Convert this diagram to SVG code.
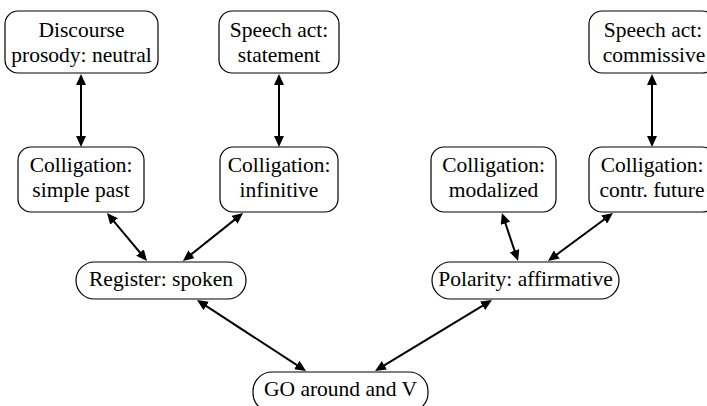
<svg xmlns="http://www.w3.org/2000/svg" width="707" height="406" viewBox="0 0 707 406">
<style>
.box{fill:#fff;stroke:#000;stroke-width:1.2}
.t{font-family:"Liberation Serif","Times New Roman",serif;font-size:21.5px;fill:#000;text-anchor:middle}
.c line{stroke:#000;stroke-width:2;marker-start:url(#ah);marker-end:url(#ah)}
</style>
<defs>
<marker id="ah" markerUnits="userSpaceOnUse" markerWidth="12" markerHeight="10" refX="8" refY="5" orient="auto-start-reverse">
<path d="M0,0 L11,5 L0,10 z" fill="#000"/>
</marker>
</defs>
<rect width="707" height="406" fill="#fff"/>
<g class="c" id="connectors">
<line x1="81" y1="77" x2="81" y2="144"/>
<line x1="279" y1="77" x2="279" y2="144"/>
<line x1="652" y1="77" x2="652" y2="144"/>
<line x1="108.9" y1="215.3" x2="145.1" y2="258.7"/>
<line x1="240.7" y1="214.9" x2="185.3" y2="259.1"/>
<line x1="502.9" y1="215.8" x2="517.1" y2="258.2"/>
<line x1="610.6" y1="214.8" x2="550.4" y2="259.2"/>
<line x1="199.5" y1="301.6" x2="303.5" y2="369.4"/>
<line x1="489.4" y1="301.6" x2="377.6" y2="369.4"/>
</g>
<g id="discourse">
<rect class="box" x="5" y="11" width="153" height="62" rx="13"/>
<text class="t" x="81.5" y="37">Discourse</text>
<text class="t" x="81.5" y="62">prosody: neutral</text>
</g>
<g id="statement">
<rect class="box" x="219" y="11" width="120" height="62" rx="13"/>
<text class="t" x="279" y="37">Speech act:</text>
<text class="t" x="279" y="62">statement</text>
</g>
<g id="commissive">
<rect class="box" x="589" y="11" width="126" height="62" rx="13"/>
<text class="t" x="653" y="37">Speech act:</text>
<text class="t" x="654" y="62">commissive</text>
</g>
<g id="simplepast">
<rect class="box" x="18" y="147" width="126" height="65" rx="13"/>
<text class="t" x="81" y="172">Colligation:</text>
<text class="t" x="81" y="197">simple past</text>
</g>
<g id="infinitive">
<rect class="box" x="220" y="147" width="118" height="65" rx="13"/>
<text class="t" x="279" y="172">Colligation:</text>
<text class="t" x="279" y="197">infinitive</text>
</g>
<g id="modalized">
<rect class="box" x="431" y="147" width="125" height="65" rx="13"/>
<text class="t" x="493.5" y="172">Colligation:</text>
<text class="t" x="493.5" y="197">modalized</text>
</g>
<g id="contrfuture">
<rect class="box" x="589" y="147" width="126" height="65" rx="13"/>
<text class="t" x="652" y="172">Colligation:</text>
<text class="t" x="652" y="197">contr. future</text>
</g>
<g id="register">
<rect class="box" x="76" y="262" width="170" height="37" rx="18.5"/>
<text class="t" x="161" y="286">Register: spoken</text>
</g>
<g id="polarity">
<rect class="box" x="432" y="262" width="187" height="37" rx="18.5"/>
<text class="t" x="525.5" y="286">Polarity: affirmative</text>
</g>
<g id="go">
<rect class="box" x="253" y="372" width="175" height="40" rx="19"/>
<text class="t" x="340.5" y="396">GO around and V</text>
</g>
</svg>
